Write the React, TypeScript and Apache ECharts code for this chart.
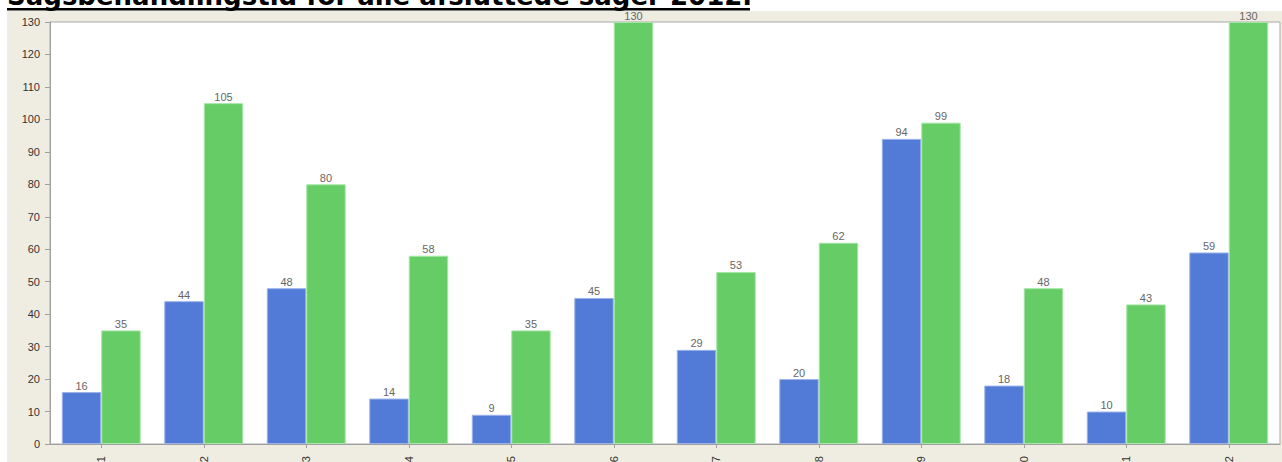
import React, { useEffect, useRef } from "react";
import * as echarts from "echarts";

const categories = ["1", "2", "3", "4", "5", "6", "7", "8", "9", "10", "11", "12"];
const blueValues = [16, 44, 48, 14, 9, 45, 29, 20, 94, 18, 10, 59];
const greenValues = [35, 105, 80, 58, 35, 130, 53, 62, 99, 48, 43, 130];
const yTicks = { min: 0, max: 130, interval: 10 };
const titleText = "Sagsbehandlingstid for alle afsluttede sager 2012.";

const OFFSET = 30;

export default function App() {
  const ref = useRef<HTMLDivElement>(null);
  useEffect(() => {
    if (!ref.current) return;
    const chart = echarts.init(ref.current, null, { renderer: "svg" });
    const labelStyle = {
      show: true,
      position: "top" as const,
      distance: 1,
      color: "#666666",
      fontFamily: "Liberation Sans",
      fontSize: 11,
    };
    chart.setOption({
      animation: false,
      backgroundColor: "#ffffff",
      graphic: [
        {
          type: "rect",
          z: -10,
          shape: { x: 7, y: 11 + OFFSET, width: 1282, height: 600 },
          style: { fill: "#EFEDE1" },
          silent: true,
        },
        {
          type: "text",
          x: 7,
          y: 9 + OFFSET,
          style: {
            text: titleText,
            fill: "#000000",
            font: "bold 26px 'DejaVu Sans'",
            verticalAlign: "bottom",
          },
        },
        {
          type: "rect",
          shape: { x: 7, y: 8 + OFFSET, width: 743, height: 2.5 },
          style: { fill: "#000000" },
        },
      ],
      grid: {
        left: 50,
        right: 2,
        top: 22 + OFFSET,
        height: 422,
        show: true,
        backgroundColor: "#ffffff",
        borderColor: "#A8A8A8",
        borderWidth: 1,
        containLabel: false,
      },
      xAxis: {
        type: "category",
        data: categories,
        axisLine: { lineStyle: { color: "#A0A0A0" } },
        axisTick: { show: true, alignWithLabel: true, length: 4, lineStyle: { color: "#A0A0A0" } },
        axisLabel: {
          rotate: 90,
          color: "#333333",
          fontFamily: "Liberation Sans",
          fontSize: 11,
          margin: 12,
        },
      },
      yAxis: {
        type: "value",
        min: yTicks.min,
        max: yTicks.max,
        interval: yTicks.interval,
        splitLine: { show: false },
        axisLine: { show: true, lineStyle: { color: "#A0A0A0" } },
        axisTick: { show: true, length: 5, lineStyle: { color: "#A0A0A0" } },
        axisLabel: {
          color: "#333333",
          fontFamily: "Liberation Sans",
          fontSize: 11,
          margin: 10,
        },
      },
      series: [
        {
          type: "bar",
          data: blueValues,
          barGap: "0%",
          barCategoryGap: "23%",
          itemStyle: { color: "#527AD7", borderColor: "#9CB3EA", borderWidth: 1 },
          label: labelStyle,
        },
        {
          type: "bar",
          data: greenValues,
          itemStyle: { color: "#66CC66", borderColor: "#A6E6A6", borderWidth: 1 },
          label: labelStyle,
        },
      ],
    });
    return () => chart.dispose();
  }, []);
  return (
    <div style={{ position: "fixed", left: 0, top: 0, width: 1282, height: 462, overflow: "hidden" }}>
      <div
        ref={ref}
        style={{ position: "absolute", left: 0, top: -OFFSET, width: 1282, height: 462 + OFFSET + 40 }}
      />
    </div>
  );
}
